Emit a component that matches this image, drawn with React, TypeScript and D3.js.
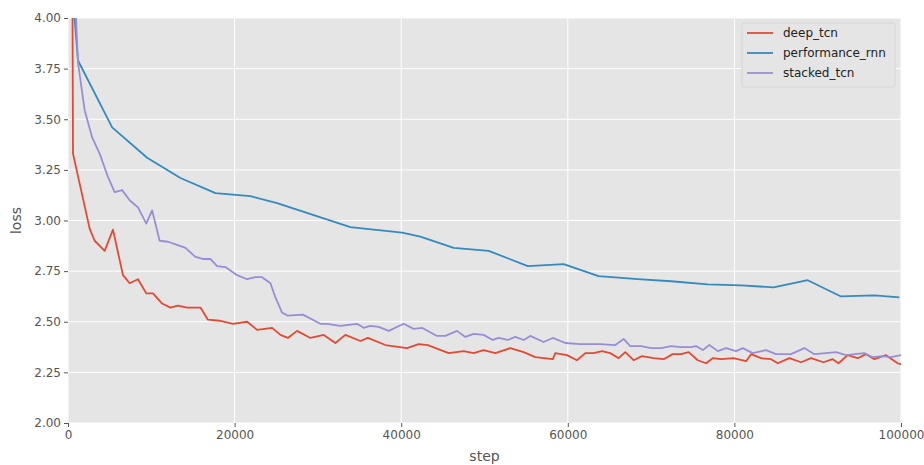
import React, { useEffect, useRef } from "react";
import { select, scaleLinear, line, axisBottom, axisLeft } from "d3";

type Pt = [number, number];

const seriesNames = ["deep_tcn", "performance_rnn", "stacked_tcn"];
const seriesColors = ["#E24A33", "#348ABD", "#988ED5"];

const deepTcn: Pt[] = [
  [300, 7.0], [600, 3.33], [2600, 2.96], [3200, 2.9], [4400, 2.85], [5400, 2.955],
  [6600, 2.73], [7400, 2.69], [8400, 2.71], [9400, 2.64], [10200, 2.64], [11300, 2.59],
  [12300, 2.57], [13200, 2.58], [14300, 2.57], [15900, 2.57], [16800, 2.51], [18200, 2.505],
  [19800, 2.49], [21500, 2.5], [22700, 2.46], [24500, 2.47], [25500, 2.435], [26400, 2.42],
  [27500, 2.455], [29100, 2.42], [30700, 2.435], [32100, 2.395], [33300, 2.435], [35100, 2.405],
  [36000, 2.42], [38100, 2.385], [40700, 2.37], [42100, 2.39], [43200, 2.385], [45700, 2.345],
  [47500, 2.355], [48700, 2.345], [49900, 2.36], [51300, 2.345], [53100, 2.37], [54700, 2.35],
  [56100, 2.325], [58200, 2.315], [58500, 2.345], [59900, 2.335], [61100, 2.31], [62100, 2.345],
  [63100, 2.345], [64100, 2.355], [65100, 2.345], [66100, 2.32], [66900, 2.35], [67900, 2.31],
  [68900, 2.33], [70300, 2.32], [71500, 2.315], [72600, 2.34], [73600, 2.34], [74500, 2.35],
  [75600, 2.31], [76600, 2.295], [77400, 2.32], [78400, 2.315], [79900, 2.32], [81400, 2.305],
  [82000, 2.34], [83200, 2.32], [84400, 2.315], [85200, 2.295], [86600, 2.32], [88000, 2.3],
  [89200, 2.32], [90700, 2.3], [91800, 2.315], [92500, 2.295], [93600, 2.335], [94800, 2.32],
  [95800, 2.34], [96800, 2.315], [98200, 2.335], [99600, 2.295], [100000, 2.29],
];

const performanceRnn: Pt[] = [
  [0, 4.4], [1200, 3.79], [5300, 3.46], [9500, 3.31], [13500, 3.21], [17700, 3.135],
  [21900, 3.12], [25100, 3.086], [33900, 2.967], [40100, 2.94], [42300, 2.92], [46300, 2.865],
  [50500, 2.85], [55200, 2.775], [59500, 2.785], [63700, 2.725], [68400, 2.71], [72400, 2.7],
  [76800, 2.685], [80800, 2.68], [84700, 2.67], [88800, 2.705], [92800, 2.625], [96800, 2.63],
  [99800, 2.62],
];

const stackedTcn: Pt[] = [
  [0, 4.9], [1200, 3.78], [2000, 3.545], [2900, 3.41], [3800, 3.33], [4800, 3.215],
  [5600, 3.14], [6500, 3.15], [7400, 3.1], [8400, 3.065], [9400, 2.985], [10100, 3.05],
  [11000, 2.9], [12000, 2.895], [13100, 2.88], [14100, 2.865], [15300, 2.82], [16200, 2.81],
  [17100, 2.81], [17900, 2.775], [18900, 2.77], [20300, 2.73], [21500, 2.71], [22500, 2.72],
  [23300, 2.72], [24300, 2.69], [24900, 2.62], [25700, 2.545], [26400, 2.53], [28200, 2.535],
  [30300, 2.49], [31100, 2.49], [32700, 2.48], [34700, 2.49], [35500, 2.47], [36300, 2.48],
  [37300, 2.475], [38500, 2.455], [40300, 2.49], [41500, 2.465], [42500, 2.47], [44300, 2.43],
  [45300, 2.43], [46700, 2.455], [47700, 2.425], [48700, 2.44], [49900, 2.435], [51000, 2.41],
  [51700, 2.42], [52800, 2.41], [53700, 2.425], [54700, 2.41], [55500, 2.43], [57100, 2.4],
  [58200, 2.42], [59700, 2.395], [61500, 2.39], [63900, 2.39], [65700, 2.385], [66700, 2.415],
  [67500, 2.38], [68800, 2.38], [70000, 2.37], [71200, 2.37], [72400, 2.38], [73600, 2.375],
  [74800, 2.375], [75400, 2.38], [76200, 2.36], [77000, 2.385], [78000, 2.355], [79000, 2.37],
  [80200, 2.355], [81000, 2.37], [82200, 2.345], [83800, 2.36], [85000, 2.34], [86800, 2.34],
  [88400, 2.37], [89600, 2.34], [91000, 2.345], [92200, 2.35], [93400, 2.335], [95600, 2.345],
  [96600, 2.325], [97800, 2.33], [98800, 2.325], [100000, 2.335],
];

const xTicks = [0, 20000, 40000, 60000, 80000, 100000];
const yTicks = [2.0, 2.25, 2.5, 2.75, 3.0, 3.25, 3.5, 3.75, 4.0];

function App() {
  const ref = useRef<SVGGElement>(null);

  const w = 924;
  const h = 465;
  const margin = { top: 18, bottom: 42, left: 68, right: 23 };
  const width = w - margin.left - margin.right;
  const height = h - margin.top - margin.bottom;

  useEffect(() => {
    const g = select(ref.current);
    g.selectAll("*").remove();

    const x = scaleLinear().domain([0, 100000]).range([0, width]);
    const y = scaleLinear().domain([2, 4]).range([height, 0]);

    g.append("rect").attr("width", width).attr("height", height).attr("fill", "#E5E5E5");

    g.append("defs")
      .append("clipPath")
      .attr("id", "plot-clip")
      .append("rect")
      .attr("width", width)
      .attr("height", height);

    // grid
    g.selectAll(".vgrid")
      .data(xTicks)
      .enter()
      .append("line")
      .attr("x1", d => x(d))
      .attr("x2", d => x(d))
      .attr("y1", 0)
      .attr("y2", height)
      .attr("stroke", "#fff")
      .attr("stroke-width", 1);
    g.selectAll(".hgrid")
      .data(yTicks)
      .enter()
      .append("line")
      .attr("x1", 0)
      .attr("x2", width)
      .attr("y1", d => y(d))
      .attr("y2", d => y(d))
      .attr("stroke", "#fff")
      .attr("stroke-width", 1);

    const xAxis = g
      .append("g")
      .attr("transform", `translate(0,${height})`)
      .call(axisBottom(x).tickValues(xTicks).tickFormat(d => String(d)).tickSize(4).tickPadding(3));
    const yAxis = g
      .append("g")
      .call(axisLeft(y).tickValues(yTicks).tickFormat(d => (+d).toFixed(2)).tickSize(4).tickPadding(3));
    [xAxis, yAxis].forEach(a => {
      a.select(".domain").remove();
      a.selectAll("line").attr("stroke", "#555");
      a.selectAll("text")
        .attr("fill", "#555")
        .style("font-family", "DejaVu Sans")
        .style("font-size", "12px");
    });

    const lineGen = line<Pt>()
      .x(d => x(d[0]))
      .y(d => y(d[1]));

    const all = [deepTcn, performanceRnn, stackedTcn];
    const plot = g.append("g").attr("clip-path", "url(#plot-clip)");
    all.forEach((s, i) => {
      plot
        .append("path")
        .datum(s)
        .attr("d", lineGen)
        .attr("fill", "none")
        .attr("stroke", seriesColors[i])
        .attr("stroke-width", 1.8)
        .attr("stroke-linejoin", "round");
    });

    g.append("text")
      .attr("x", width / 2)
      .attr("y", height + 38)
      .attr("text-anchor", "middle")
      .attr("fill", "#555")
      .style("font-family", "DejaVu Sans")
      .style("font-size", "14px")
      .text("step");
    g.append("text")
      .attr("transform", `translate(${-47},${height / 2}) rotate(-90)`)
      .attr("text-anchor", "middle")
      .attr("fill", "#555")
      .style("font-family", "DejaVu Sans")
      .style("font-size", "14px")
      .text("loss");

    // legend
    const lg = g.append("g").attr("transform", `translate(${width - 159},5)`);
    lg.append("rect")
      .attr("width", 153)
      .attr("height", 64)
      .attr("rx", 2)
      .attr("fill", "#E5E5E5")
      .attr("stroke", "#d6d6d6");
    seriesNames.forEach((n, i) => {
      lg.append("line")
        .attr("x1", 5)
        .attr("x2", 31)
        .attr("y1", 10 + i * 20)
        .attr("y2", 10 + i * 20)
        .attr("stroke", seriesColors[i])
        .attr("stroke-width", 1.8);
      lg.append("text")
        .attr("x", 41)
        .attr("y", 14 + i * 20)
        .attr("fill", "#222")
        .style("font-family", "DejaVu Sans")
        .style("font-size", "12px")
        .text(n);
    });
  }, [height, width]);

  return (
    <div>
      <svg width={w} height={h} style={{ position: "absolute", left: 0, top: 0, background: "#fff" }}>
        <g ref={ref} transform={`translate(${margin.left},${margin.top})`}></g>
      </svg>
    </div>
  );
}

export default App;
